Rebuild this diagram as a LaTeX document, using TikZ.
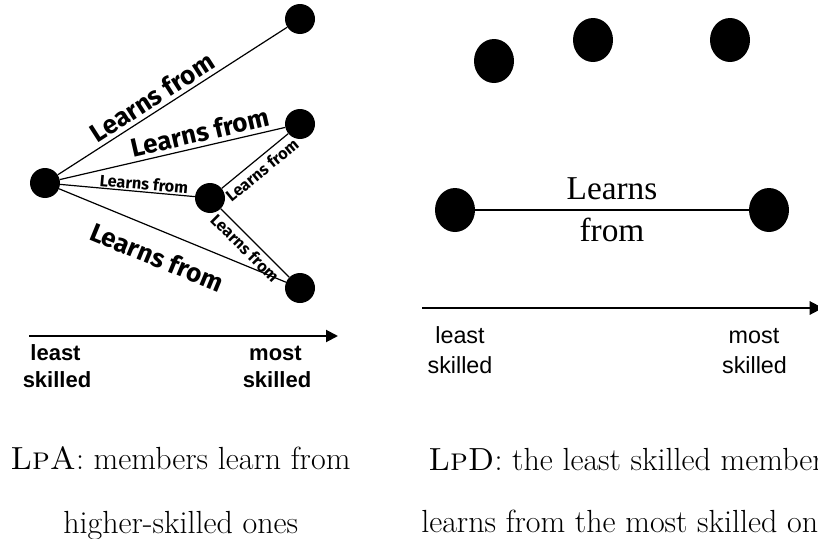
\documentclass[tikz,border=0pt]{standalone}
\usepackage{fontspec}
\newfontfamily\lblfont{Fira Sans}
\newfontfamily\axfont{Liberation Sans}
\newfontfamily\serfont{Liberation Serif}
\usetikzlibrary{arrows.meta,shapes.geometric}
\begin{document}
\begin{tikzpicture}[x=0.75pt,y=-0.75pt,
  dot/.style={circle,fill=black,inner sep=0pt,minimum size=22.5pt},
  edot/.style={ellipse,fill=black,inner sep=0pt,minimum width=30pt,minimum height=33pt},
  link/.style={line width=0.9pt},
  biglbl/.style={font=\lblfont\bfseries\fontsize{19.5}{22}\selectfont,inner sep=0pt},
  smalllbl/.style={font=\lblfont\bfseries\fontsize{12.2}{14}\selectfont,inner sep=0pt},
  axisline/.style={line width=1.5pt,-{Triangle[length=9pt,width=9pt]}},
  boldax/.style={font=\axfont\bfseries\fontsize{16.5}{18}\selectfont,anchor=base,inner sep=0pt},
  regax/.style={font=\axfont\fontsize{17.5}{20}\selectfont,anchor=base,inner sep=0pt},
  captxt/.style={font=\fontsize{24}{28}\selectfont,anchor=base west,inner sep=0pt}]
\useasboundingbox (0,0) rectangle (818,539);
\clip (0,0) rectangle (818,539);
% ---------- left: LpA ----------
\node[dot] (A) at (45,183) {};
\node[dot] (B) at (300,19) {};
\node[dot] (C) at (300,124) {};
\node[dot] (D) at (210,198) {};
\node[dot] (E) at (300,288) {};
\draw[link] (A) -- (B);
\draw[link] (A) -- (C);
\draw[link] (A) -- (D);
\draw[link] (A) -- (E);
\draw[link] (D) -- (C);
\draw[link] (D) -- (E);
\node[biglbl,rotate=32.7] (lab) at (152,97) {Learns from};
\node[biglbl,rotate=13] (lac) at (200,132) {Learns from};
\node[smalllbl,rotate=-5.2] (lad) at (144,184) {Learns from};
\node[biglbl,rotate=-22.4] (lae) at (157,257) {Learns from};
\node[smalllbl,rotate=39.4] (ldc) at (262,170) {Learns from};
\node[smalllbl,rotate=-45] (lde) at (245,248) {Learns from};
% left axis
\coordinate (la0) at (29,336);
\coordinate (la1) at (338,336);
\draw[axisline] (la0) -- (la1);
\node[boldax] (ll1) at (55.5,360) {least};
\node[boldax] (ll2) at (57,387) {skilled};
\node[boldax] (lm1) at (275.5,360) {most};
\node[boldax] (lm2) at (277,387) {skilled};
% left caption
\node[captxt] (capA1) at (10,469) {\textsc{LpA}: members learn from};
\node[captxt] (capA2) at (63,533) {higher-skilled ones};
% ---------- right: LpD ----------
\node[edot] (T1) at (494,61) {};
\node[edot] (T2) at (593,40) {};
\node[edot] (T3) at (730,40) {};
\node[edot] (P) at (455,210) {};
\node[edot] (Q) at (769,210) {};
\draw[line width=1.3pt] (P) -- node[midway,align=center,inner sep=0pt,font=\serfont\fontsize{25}{31.5}\selectfont] (lpq) {Learns\\from} (Q);
% right axis
\coordinate (ra0) at (422,308);
\coordinate (ra1) at (823,308);
\draw[axisline,-{Triangle[length=10pt,width=10pt]}] (ra0) -- (ra1);
\node[regax] (rl1) at (460,343) {least};
\node[regax] (rl2) at (460,373) {skilled};
\node[regax] (rm1) at (754,343) {most};
\node[regax] (rm2) at (754.5,373) {skilled};
% right caption
\node[captxt] (capD1) at (428,470) {\textsc{LpD}: the least skilled members};
\node[captxt] (capD2) at (421,532) {learns from the most skilled ones};
\end{tikzpicture}
\end{document}
